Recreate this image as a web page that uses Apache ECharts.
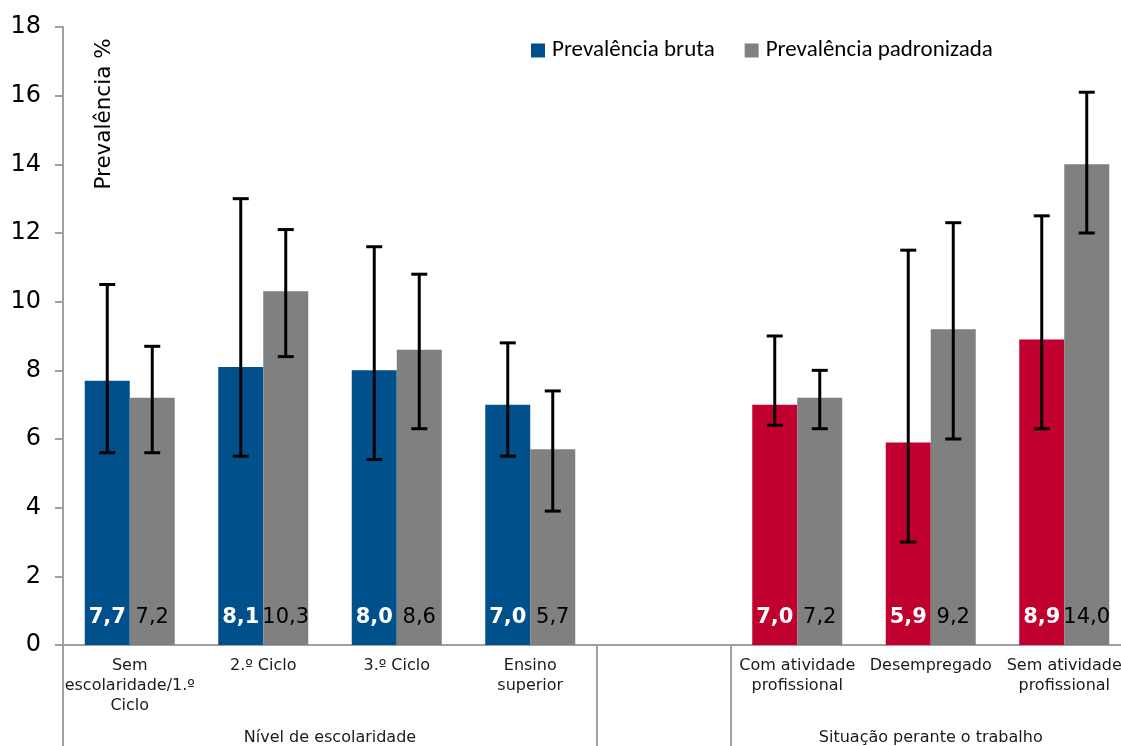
<!DOCTYPE html>
<html>
<head>
<meta charset="utf-8">
<script src="https://cdn.jsdelivr.net/npm/echarts@6/dist/echarts.min.js"></script>
<style>
  html, body { margin: 0; padding: 0; background: #ffffff; }
  #chart { width: 1121px; height: 746px; }
</style>
</head>
<body>
<div id="chart"></div>
<script>
// Categories (an empty slot separates the two groups)
const categories = [
  'Sem\nescolaridade/1.º\nCiclo', '2.º Ciclo', '3.º Ciclo', 'Ensino\nsuperior',
  '',
  'Com atividade\nprofissional', 'Desempregado', 'Sem atividade\nprofissional'
];
const groupNames = ['Nível de escolaridade', 'Situação perante o trabalho'];
const groupCenters = [2, 6.5];      // in category-slot units
const groupDividers = [0, 4, 5];    // slot boundaries

const seriesNames = ['Prevalência bruta', 'Prevalência padronizada'];

// Prevalence values (%)
const bruta       = [7.7, 8.1, 8.0, 7.0, null, 7.0, 5.9, 8.9];
const padronizada = [7.2, 10.3, 8.6, 5.7, null, 7.2, 9.2, 14.0];

// 95% confidence intervals
const brutaLow  = [5.6, 5.5, 5.4, 5.5, null, 6.4, 3.0, 6.3];
const brutaHigh = [10.5, 13.0, 11.6, 8.8, null, 9.0, 11.5, 12.5];
const padLow    = [5.6, 8.4, 6.3, 3.9, null, 6.3, 6.0, 12.0];
const padHigh   = [8.7, 12.1, 10.8, 7.4, null, 8.0, 12.3, 16.1];

const yTicks = { min: 0, max: 18, interval: 2 };

const BLUE = '#00508c';
const RED = '#c0002f';
const GRAY = '#808080';
const BAR_W = 45;

const fmt = v => v.toFixed(1).replace('.', ',');

function errData(lo, hi) {
  const out = [];
  lo.forEach((l, i) => { if (l != null) out.push([i, l, hi[i]]); });
  return out;
}

function errorBars(offset) {
  return function (params, api) {
    const i = api.value(0);
    const lo = api.coord([i, api.value(1)]);
    const hi = api.coord([i, api.value(2)]);
    const x = lo[0] + offset;
    const cap = 8;
    const style = { stroke: '#000', lineWidth: 3 };
    return {
      type: 'group',
      children: [
        { type: 'line', shape: { x1: x, y1: lo[1], x2: x, y2: hi[1] }, style },
        { type: 'line', shape: { x1: x - cap, y1: hi[1], x2: x + cap, y2: hi[1] }, style },
        { type: 'line', shape: { x1: x - cap, y1: lo[1], x2: x + cap, y2: lo[1] }, style }
      ]
    };
  };
}

const chart = echarts.init(document.getElementById('chart'), null, { renderer: 'canvas' });

chart.setOption({
  animation: false,
  backgroundColor: '#ffffff',
  textStyle: { fontFamily: 'DejaVu Sans' },
  // the plot runs slightly past the right edge of the page
  grid: {
    left: 63, width: 1068, top: 27, height: 618,
    containLabel: false, outerBoundsMode: 'none'
  },
  legend: {
    data: seriesNames,
    left: 526, top: 34,
    itemWidth: 14, itemHeight: 14, itemGap: 30,
    icon: 'rect',
    textStyle: { fontFamily: 'Carlito, Lato', fontSize: 23, color: '#000', padding: [0, 0, 0, 2] }
  },
  xAxis: [
    {
      type: 'category',
      data: categories,
      axisLine: { lineStyle: { color: '#a0a0a0', width: 2 } },
      axisTick: { show: false },
      axisLabel: {
        interval: 0, margin: 11,
        fontFamily: 'DejaVu Sans', fontSize: 16, lineHeight: 20, color: '#1a1a1a'
      }
    },
    {
      type: 'value',
      min: 0, max: categories.length,
      position: 'bottom',
      axisLine: { show: false },
      splitLine: { show: false },
      axisTick: {
        show: true, customValues: groupDividers, length: 104,
        lineStyle: { color: '#a0a0a0', width: 2 }
      },
      axisLabel: {
        customValues: groupCenters,
        margin: 85,
        fontFamily: 'DejaVu Sans', fontSize: 16, color: '#1a1a1a',
        formatter: v => groupNames[groupCenters.indexOf(v)]
      }
    }
  ],
  yAxis: {
    type: 'value',
    min: yTicks.min, max: yTicks.max, interval: yTicks.interval,
    axisLine: { show: true, lineStyle: { color: '#a0a0a0', width: 2 } },
    axisTick: { show: true, length: 8, lineStyle: { color: '#a0a0a0', width: 2 } },
    splitLine: { show: false },
    axisLabel: { margin: 22, fontFamily: 'DejaVu Sans', fontSize: 24, color: '#000' }
  },
  graphic: [{
    type: 'text',
    x: 104, y: 114,
    rotation: Math.PI / 2,
    style: {
      text: 'Prevalência %',
      fontFamily: 'DejaVu Sans', fontSize: 21.5, fill: '#000',
      textAlign: 'center', textVerticalAlign: 'middle'
    }
  }],
  series: [
    {
      name: seriesNames[0],
      type: 'bar',
      barWidth: BAR_W, barGap: '0%',
      itemStyle: { color: BLUE },
      data: bruta.map((v, i) => v == null ? null : { value: v, itemStyle: { color: i > 4 ? RED : BLUE } }),
      label: {
        show: true, position: 'insideBottom', distance: 17,
        fontFamily: 'DejaVu Sans', fontSize: 21, fontWeight: 'bold', color: '#fff',
        formatter: p => fmt(p.value)
      },
      z: 2
    },
    {
      name: seriesNames[1],
      type: 'bar',
      barWidth: BAR_W, barGap: '0%',
      itemStyle: { color: GRAY },
      data: padronizada,
      label: {
        show: true, position: 'insideBottom', distance: 17,
        fontFamily: 'DejaVu Sans', fontSize: 21, color: '#000',
        formatter: p => fmt(p.value)
      },
      z: 2
    },
    {
      type: 'custom',
      renderItem: errorBars(-BAR_W / 2),
      data: errData(brutaLow, brutaHigh),
      encode: { x: 0, y: [1, 2] },
      z: 5
    },
    {
      type: 'custom',
      renderItem: errorBars(BAR_W / 2),
      data: errData(padLow, padHigh),
      encode: { x: 0, y: [1, 2] },
      z: 5
    }
  ]
});
</script>
</body>
</html>
